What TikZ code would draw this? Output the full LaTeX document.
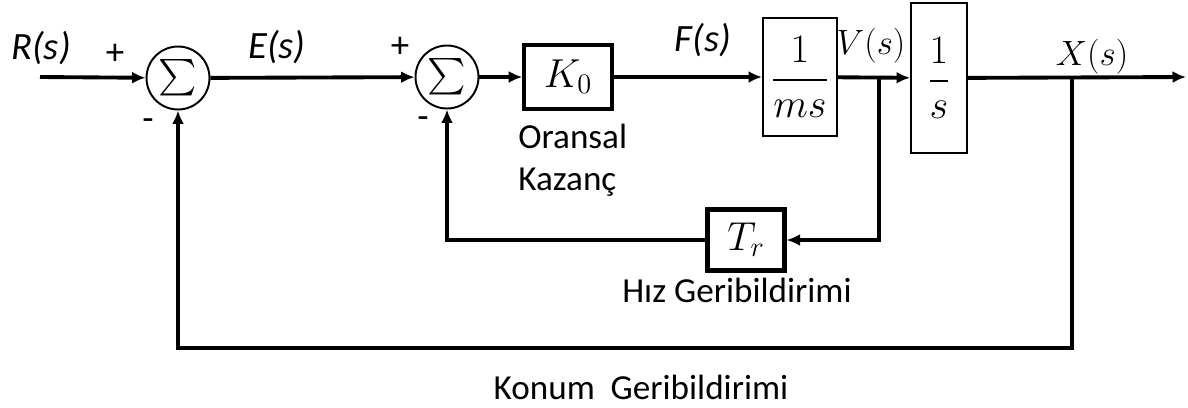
\RequirePackage{fix-cm}
\documentclass[tikz,border=0pt]{standalone}
\usepackage{amsmath}
\usepackage[no-math]{fontspec}
\newfontfamily\calfont{Carlito}
\usetikzlibrary{arrows.meta}
\tikzset{
  bd/sum/.style={
    circle,
    draw,
    line width=1.1pt,
    fill=white,
    minimum size=1.26cm,
    inner sep=0pt,
    font=\fontsize{21}{21}\selectfont
  },
  bd/gain/.style={
    draw,
    line width=2.3pt,
    fill=white,
    inner sep=0pt,
    font=\fontsize{23}{26}\selectfont
  },
  bd/plant/.style={
    draw,
    line width=1.4pt,
    fill=white,
    inner sep=0pt,
    font=\fontsize{23}{26}\selectfont
  },
  bd/signal/.style={font=\calfont\itshape\fontsize{22}{26}\selectfont},
  bd/mathsig/.style={font=\fontsize{20}{24}\selectfont},
  bd/sign/.style={font=\calfont\fontsize{21}{24}\selectfont},
  bd/caption/.style={font=\calfont\fontsize{20}{24}\selectfont, align=left},
  bd/arrow/.style={line width=2.2pt, -{Latex[length=0.27cm,width=0.24cm]}}
}

\begin{document}
\begin{tikzpicture}[x=0.02cm,y=-0.02cm]
  \useasboundingbox (0,0) rectangle (1188,407);
  \coordinate (in) at (40,77);
  \node[bd/sum] (sumR) at (178,78) {$\sum$};
  \node[bd/sum] (sumV) at (447,77) {$\sum$};
  \node[bd/gain,minimum width=1.75cm,minimum height=1.28cm] (kzero) at (568,77) {$K_0$};
  \node[bd/plant,minimum width=1.47cm,minimum height=2.37cm] (mass) at (800,77) {$\displaystyle\frac{1}{ms}$};
  \node[bd/plant,minimum width=1.11cm,minimum height=3.0cm] (integ) at (939,78) {$\displaystyle\frac{1}{s}$};
  \node[bd/gain,minimum width=1.54cm,minimum height=1.22cm] (tr) at (746,240) {$T_r$};
  \coordinate (vtap) at (879,77);
  \coordinate (xtap) at (1072,77);
  \coordinate (xbot) at (1072,348);
  \coordinate (out) at (1186,77);

  \draw[bd/arrow] (in) -- (sumR);
  \draw[bd/arrow] (sumR) -- (sumV);
  \draw[bd/arrow] (sumV) -- (kzero);
  \draw[bd/arrow] (kzero) -- (mass);
  \draw[bd/arrow] (mass) -- (integ);
  \draw[bd/arrow] (integ) -- (out);
  \draw[bd/arrow] (vtap) |- (tr);
  \draw[bd/arrow] (tr) -| (sumV);
  \draw[bd/arrow] (xtap) -- (xbot) -| (sumR);

  \node[bd/signal] (rlab) at (41,48) {R(s)};
  \node[bd/signal] (elab) at (277,47) {E(s)};
  \node[bd/signal] (flab) at (703,40) {F(s)};
  \node[bd/mathsig] (vlab) at (871,46) {$V(s)$};
  \node[bd/mathsig] (xlab) at (1092,57) {$X(s)$};
  \node[bd/sign] (rplus) at (115,54) {+};
  \node[bd/sign] (rminus) at (148,125) {-};
  \node[bd/sign] (vplus) at (400,47) {+};
  \node[bd/sign] (vminus) at (423,123) {-};
  \node[bd/caption,anchor=north west,inner sep=0pt] (kcap) at (518,124) {Oransal\\Kazanç};
  \node[bd/caption] (trcap) at (737,290) {Hız Geribildirimi};
  \node[bd/caption] (xcap) at (641,387) {Konum\ \ Geribildirimi};
\end{tikzpicture}
\end{document}
